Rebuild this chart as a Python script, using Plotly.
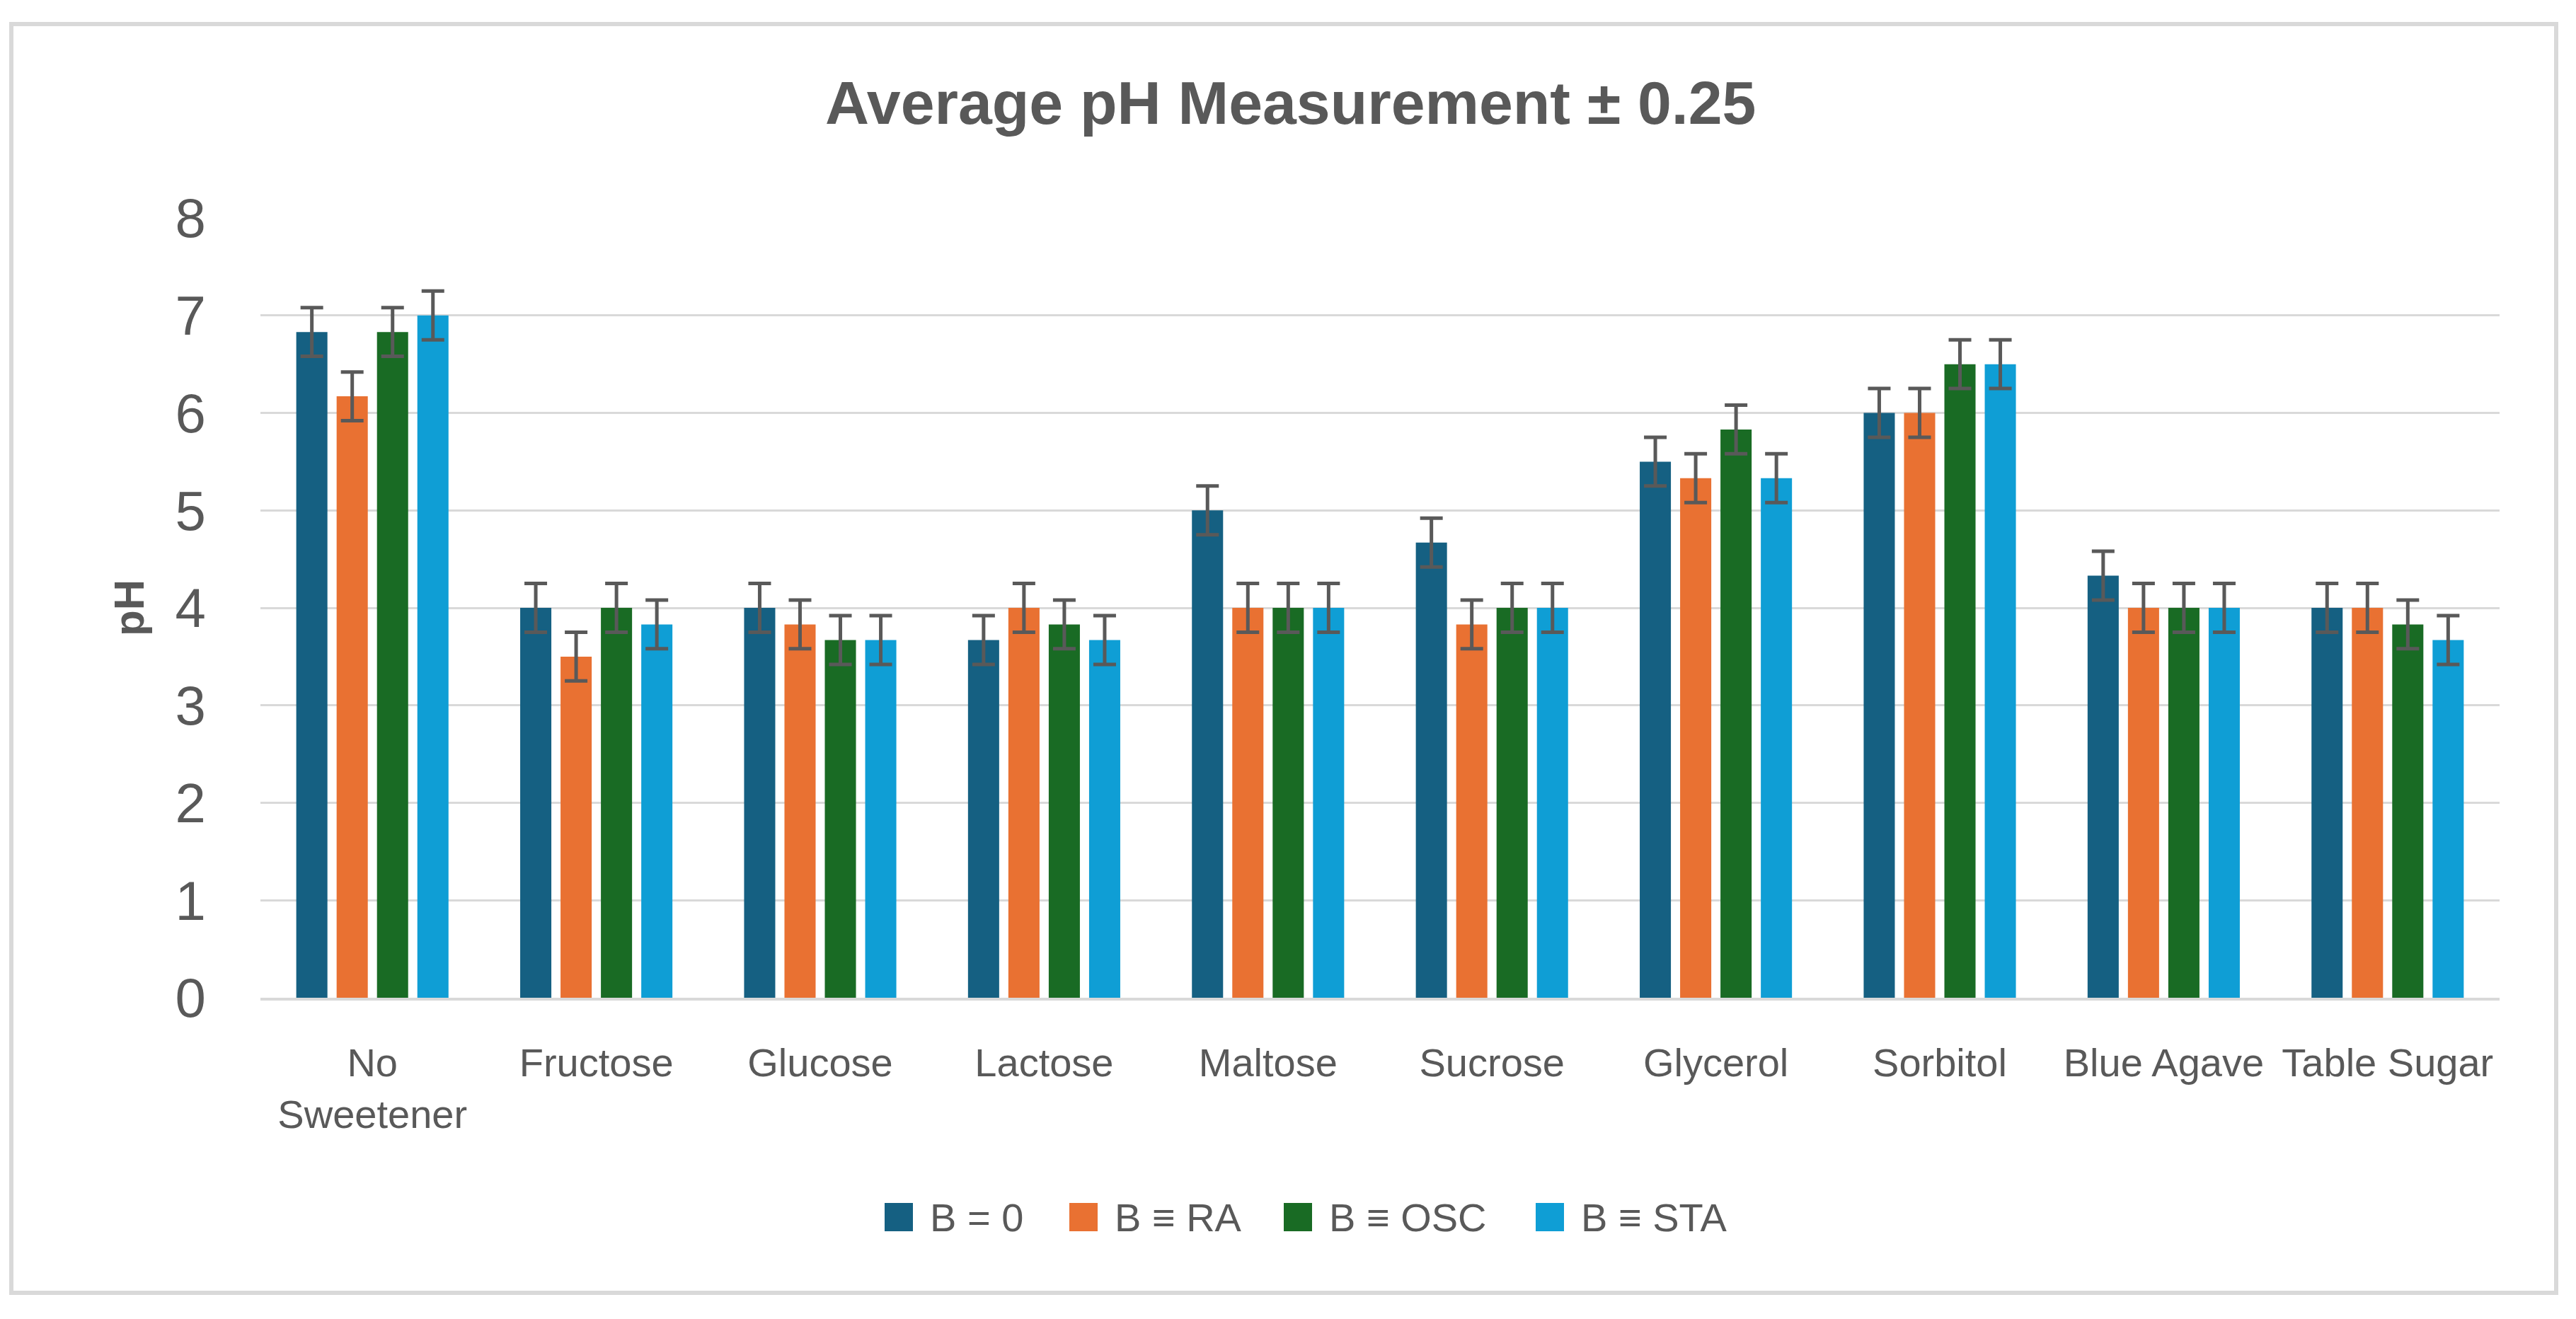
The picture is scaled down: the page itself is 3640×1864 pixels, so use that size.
import plotly.graph_objects as go

# ---------------- data ----------------
categories = ["No Sweetener", "Fructose", "Glucose", "Lactose", "Maltose",
              "Sucrose", "Glycerol", "Sorbitol", "Blue Agave", "Table Sugar"]
tick_labels = ["No<br>Sweetener", "Fructose", "Glucose", "Lactose", "Maltose",
               "Sucrose", "Glycerol", "Sorbitol", "Blue Agave", "Table Sugar"]
series_names = ["B = 0", "B ≡ RA", "B ≡ OSC", "B ≡ STA"]
b_zero = [6.83, 4.00, 4.00, 3.67, 5.00, 4.67, 5.50, 6.00, 4.33, 4.00]
b_ra = [6.17, 3.50, 3.83, 4.00, 4.00, 3.83, 5.33, 6.00, 4.00, 4.00]
b_osc = [6.83, 4.00, 3.67, 3.83, 4.00, 4.00, 5.83, 6.50, 4.00, 3.83]
b_sta = [7.00, 3.83, 3.67, 3.67, 4.00, 4.00, 5.33, 6.50, 4.00, 3.67]
series_values = [b_zero, b_ra, b_osc, b_sta]
error_value = 0.25
y_ticks = [0, 1, 2, 3, 4, 5, 6, 7, 8]
title_text = "Average pH Measurement ± 0.25"
y_title = "pH"

colors = ["#156082", "#E97132", "#196B24", "#0F9ED5"]
TEXT = "#595959"
GRID = "#D9D9D9"
FONT = "Liberation Sans"

# ---------------- geometry ----------------
W, H = 3640, 1864
L, R, T, B = 368, 108, 308, 454
PW, PH = W - L - R, H - T - B


def px_x(px):
    return (px - L) / PW


def px_y(py):
    return (H - B - py) / PH


fig = go.Figure()
for name, vals, color in zip(series_names, series_values, colors):
    fig.add_bar(
        x=categories, y=vals, name=name,
        marker=dict(color=color, line=dict(width=0)),
        error_y=dict(type="constant", value=error_value, color=TEXT,
                     thickness=5, width=16),
    )

fig.update_layout(
    width=W, height=H, autosize=False,
    margin=dict(l=L, r=R, t=T, b=B),
    paper_bgcolor="white", plot_bgcolor="white",
    barmode="group", bargap=0.279, bargroupgap=0.228,
    showlegend=False,
    font=dict(family=FONT, color=TEXT),
    title=dict(text=title_text, xref="container", yref="container",
               x=0.501, y=0.922, xanchor="center", yanchor="middle",
               font=dict(family=FONT, size=86, color=TEXT, weight="bold")),
)

fig.update_yaxes(
    range=[0, 8], tickvals=y_ticks, showgrid=True, gridcolor=GRID, gridwidth=3,
    zeroline=False, showline=False, ticks="",
    tickfont=dict(family=FONT, size=78, color=TEXT),
    ticklabelstandoff=76,
    title=dict(text=y_title, standoff=24,
               font=dict(family=FONT, size=60, color=TEXT, weight="bold")),
)
fig.update_xaxes(
    tickvals=categories, ticktext=tick_labels,
    showline=True, linecolor=GRID, linewidth=4, ticks="", showgrid=False,
    tickfont=dict(family=FONT, size=56, color=TEXT),
    ticklabelstandoff=40,
)

# outer chart frame
fig.add_shape(type="rect", xref="paper", yref="paper",
              x0=px_x(16), x1=px_x(3612), y0=px_y(1827), y1=px_y(34),
              line=dict(color=GRID, width=6), fillcolor="rgba(0,0,0,0)",
              layer="below")

# custom legend (large square swatches)
legend_lefts = [1250, 1511, 1814, 2170]
legend_cy = 1720
sw = 40
for name, color, lx in zip(series_names, colors, legend_lefts):
    fig.add_shape(type="rect", xref="paper", yref="paper",
                  x0=px_x(lx), x1=px_x(lx + sw),
                  y0=px_y(legend_cy + sw / 2), y1=px_y(legend_cy - sw / 2),
                  line=dict(width=0), fillcolor=color)
    fig.add_annotation(xref="paper", yref="paper",
                       x=px_x(lx + sw + 22), y=px_y(legend_cy),
                       xanchor="left", yanchor="middle", showarrow=False,
                       text=name, font=dict(family=FONT, size=56, color=TEXT))

fig.write_html("out.html")
